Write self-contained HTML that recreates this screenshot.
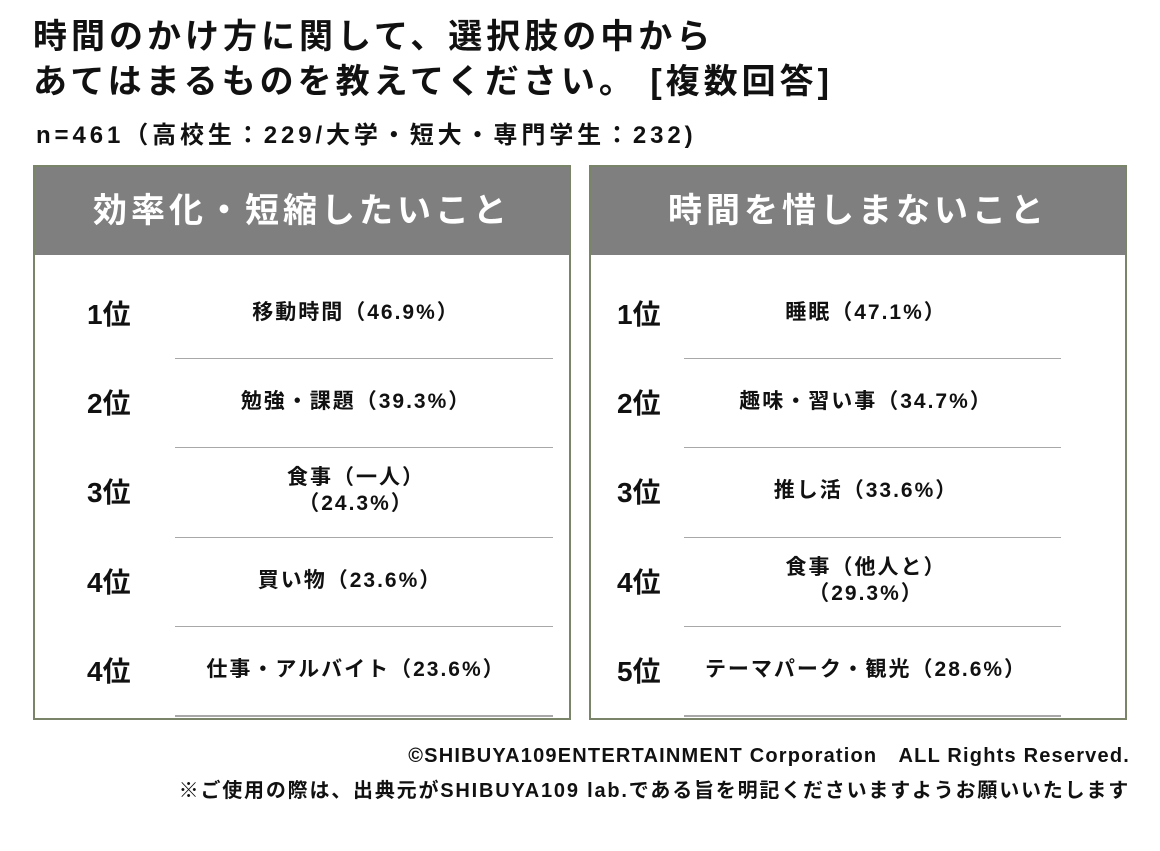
<!DOCTYPE html>
<html><head><meta charset="utf-8"><style>
body{margin:0;width:1160px;height:851px;background:#fff;font-family:"Liberation Sans","Noto Sans CJK JP",sans-serif;position:relative;overflow:hidden;color:#111}
.t{position:absolute;left:33px;font-weight:bold;font-size:34px;line-height:44px;white-space:nowrap;letter-spacing:4px}
.n{position:absolute;left:36px;top:115px;font-weight:bold;font-size:24px;white-space:nowrap;letter-spacing:3.9px}
.p{position:absolute;top:165px;width:534px;height:551px;border:2px solid #7a8468;background:#fff}
.h{height:88px;background:#7f7f7f;color:#fff;font-size:34px;font-weight:bold;text-align:center;line-height:88px;letter-spacing:4px}
.r{position:absolute;font-size:28px;font-weight:bold;transform:translateY(-50%)}
.l{position:absolute;font-size:21px;font-weight:bold;text-align:center;transform:translate(-50%,-50%);line-height:26px;white-space:nowrap;letter-spacing:2px}
.s{position:absolute;height:1px;background:#a8a8a8}
.f{position:absolute;right:30px;font-weight:bold;font-size:20px;white-space:nowrap}
</style></head><body>
<div class="t" style="top:15px">時間のかけ方に関して、選択肢の中から</div>
<div class="t" style="top:60px">あてはまるものを教えてください。 [複数回答]</div>
<div class="n">n=461（高校生：229/大学・短大・専門学生：232)</div>

<div class="p" style="left:33px"><div class="h">効率化・短縮したいこと</div></div>
<div class="p" style="left:589px"><div class="h">時間を惜しまないこと</div></div>

<div class="r" style="left:87px;top:313px">1位</div>
<div class="r" style="left:87px;top:402px">2位</div>
<div class="r" style="left:87px;top:491px">3位</div>
<div class="r" style="left:87px;top:581px">4位</div>
<div class="r" style="left:87px;top:670px">4位</div>
<div class="l" style="left:356px;top:313px">移動時間（46.9%）</div>
<div class="l" style="left:356px;top:402px">勉強・課題（39.3%）</div>
<div class="l" style="left:356px;top:491px">食事（一人）<br>（24.3%）</div>
<div class="l" style="left:350px;top:581px">買い物（23.6%）</div>
<div class="l" style="left:356px;top:670px">仕事・アルバイト（23.6%）</div>

<div class="r" style="left:617px;top:313px">1位</div>
<div class="r" style="left:617px;top:402px">2位</div>
<div class="r" style="left:617px;top:491px">3位</div>
<div class="r" style="left:617px;top:581px">4位</div>
<div class="r" style="left:617px;top:670px">5位</div>
<div class="l" style="left:866px;top:313px">睡眠（47.1%）</div>
<div class="l" style="left:866px;top:402px">趣味・習い事（34.7%）</div>
<div class="l" style="left:866px;top:491px">推し活（33.6%）</div>
<div class="l" style="left:866px;top:581px">食事（他人と）<br>（29.3%）</div>
<div class="l" style="left:866px;top:670px">テーマパーク・観光（28.6%）</div>

<div class="s" style="left:175px;width:378px;top:358px"></div>
<div class="s" style="left:175px;width:378px;top:447px"></div>
<div class="s" style="left:175px;width:378px;top:537px"></div>
<div class="s" style="left:175px;width:378px;top:626px"></div>
<div class="s" style="left:175px;width:378px;top:715px;height:2px"></div>
<div class="s" style="left:684px;width:377px;top:358px"></div>
<div class="s" style="left:684px;width:377px;top:447px"></div>
<div class="s" style="left:684px;width:377px;top:537px"></div>
<div class="s" style="left:684px;width:377px;top:626px"></div>
<div class="s" style="left:684px;width:377px;top:715px;height:2px"></div>

<div class="f" style="top:739px;letter-spacing:1.2px">©SHIBUYA109ENTERTAINMENT Corporation　ALL Rights Reserved.</div>
<div class="f" style="top:774px;letter-spacing:1.8px">※ご使用の際は、出典元がSHIBUYA109 lab.である旨を明記くださいますようお願いいたします</div>
</body></html>
